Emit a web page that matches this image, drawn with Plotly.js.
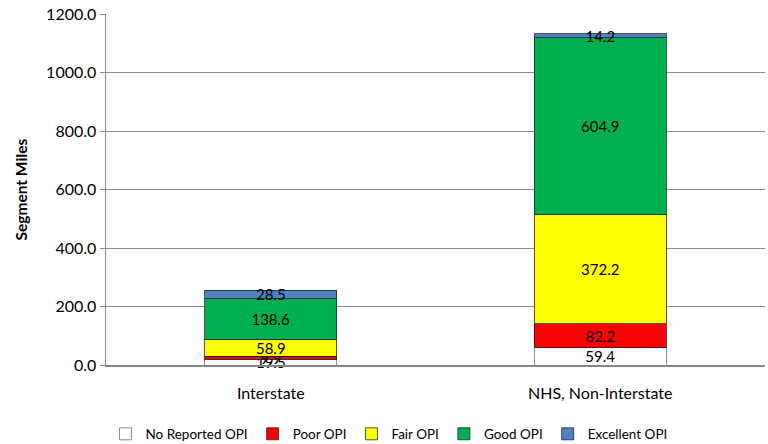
<!DOCTYPE html>
<html><head><meta charset="utf-8">
<script src="https://cdn.plot.ly/plotly-3.0.1.min.js"></script>
<style>body{margin:0;background:#fff}#chart{width:768px;height:444px}</style>
</head><body><div id="chart"></div>
<script>
var categories = ["Interstate", "NHS, Non-Interstate"];
var seriesNames = ["No Reported OPI", "Poor OPI", "Fair OPI", "Good OPI", "Excellent OPI"];
var noReported = [19.5, 59.4];
var poor = [9.9, 82.2];
var fair = [58.9, 372.2];
var good = [138.6, 604.9];
var excellent = [28.5, 14.2];
var colors = ["#FFFFFF", "#FF0000", "#FFFF00", "#00B050", "#4F81BD"];
var yTicks = [0, 200, 400, 600, 800, 1000, 1200];

var values = [noReported, poor, fair, good, excellent];
var font = "Lato, 'Open Sans', sans-serif";
var traces = values.map(function(v, i){
  return {
    type: "bar", name: seriesNames[i], x: categories, y: v,
    width: 0.4,
    marker: {color: colors[i], line: {color: i === 0 ? "#8c8c8c" : "rgba(20,30,40,0.75)", width: 1}},
    text: v.map(function(d){return d.toFixed(1);}),
    textposition: "inside", insidetextanchor: "middle", textangle: 0,
    constraintext: "none", cliponaxis: false,
    textfont: {family: font, size: 15, color: "#000"},
    hoverinfo: "none"
  };
});
var layout = {
  width: 768, height: 444,
  margin: {l: 106, r: 3, t: 14, b: 79},
  barmode: "stack",
  paper_bgcolor: "#fff", plot_bgcolor: "#fff",
  font: {family: font, size: 15, color: "#000"},
  showlegend: true,
  legend: {orientation: "h", xref: "container", yref: "container", x: 0.5065, xanchor: "center",
           y: 0.0225, yanchor: "middle",
           font: {family: font, size: 13.5, color: "#000"}, traceorder: "normal", itemwidth: 30},
  xaxis: {type: "category", showline: true, linecolor: "#868686", linewidth: 1.5,
          ticks: "", ticklabelstandoff: 13, tickfont: {family: font, size: 16, color: "#000"},
          showgrid: false, zeroline: false},
  yaxis: {range: [0, 1200], tickvals: yTicks, tickformat: ".1f", showline: true, linecolor: "#868686",
          linewidth: 1.5, ticks: "outside", ticklen: 5, tickcolor: "#868686",
          showgrid: true, gridcolor: "#8c8c8c", gridwidth: 1, zeroline: false,
          tickfont: {family: font, size: 16, color: "#000"}},
  annotations: [{text: "<b>Segment Miles</b>", xref: "paper", yref: "paper", x: -0.1305, y: 0.5,
                 xanchor: "center", yanchor: "middle", textangle: -90, showarrow: false,
                 font: {family: font, size: 15.5, color: "#000"}}]
};
Plotly.newPlot("chart", traces, layout, {staticPlot: true, displayModeBar: false});
</script></body></html>
